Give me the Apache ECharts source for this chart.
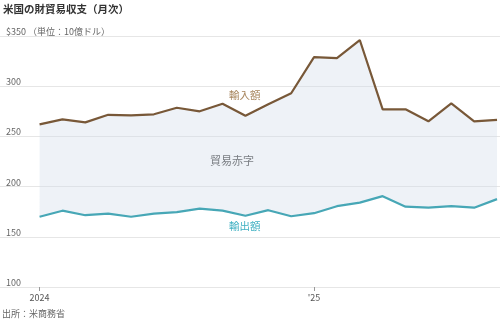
<!DOCTYPE html>
<html><head><meta charset="utf-8">
<script src="https://cdn.jsdelivr.net/npm/echarts@6/dist/echarts.min.js"></script>
<style>html,body{margin:0;padding:0;background:#fff}#c{width:500px;height:325px}</style>
</head><body><div id="c"></div>
<script>
const months = ['2024-01','2024-02','2024-03','2024-04','2024-05','2024-06','2024-07','2024-08','2024-09','2024-10','2024-11','2024-12',
                '2025-01','2025-02','2025-03','2025-04','2025-05','2025-06','2025-07','2025-08','2025-09'];
const imports = [262,267,264,271.5,271,272,278.5,275,282.5,270.5,282,293,329,328,346,277,277,265,283,265,266.5];
const exports = [170,176,171.5,173,170,173,174.5,178,176,171,176.5,170.5,173.5,180.5,184,190.5,180,179,180.5,179,187.5];
const yTicks = [100,150,200,250,300,350];
const xTickLabels = {'2024-01':'2024','2025-01':"'25"};

const FONT = '"Noto Sans CJK JP", "Noto Sans", sans-serif';
const idx = months.map((m,i)=>i);
const tickIdx = months.map((m,i)=>xTickLabels[m] ? i : null).filter(v=>v!==null);

const chart = echarts.init(document.getElementById('c'), null, {renderer:'canvas'});
chart.setOption({
  animation:false,
  textStyle:{fontFamily:FONT},
  title:{text:'米国の財貿易収支（月次）', left:3, top:4, padding:0,
    textStyle:{fontSize:10.5, fontWeight:'bold', color:'#333', fontFamily:FONT}},
  grid:{left:0, right:0, top:36, bottom:38},
  xAxis:{type:'value', min:-1.73, max:20.13,
    splitLine:{show:false}, axisLine:{show:false},
    axisTick:{show:true, customValues:tickIdx, length:4, lineStyle:{color:'#999'}},
    axisLabel:{customValues:tickIdx, margin:6, fontSize:9, color:'#555', fontFamily:FONT,
      formatter:v=>xTickLabels[months[Math.round(v)]] || ''}},
  yAxis:{type:'value', min:yTicks[0], max:yTicks[yTicks.length-1], interval:50,
    axisLine:{show:false}, axisTick:{show:false},
    splitLine:{lineStyle:{color:'#e6e6e6', width:1}},
    axisLabel:{inside:true, margin:6, verticalAlign:'bottom', fontSize:9, color:'#666', fontFamily:FONT,
      formatter:v=> v===350 ? '$350 （単位：10億ドル）' : String(v)}},
  series:[
    {type:'custom', silent:true, z:1, data:[[0,0]],
      renderItem:function(params, api){
        const top = idx.map(i=>api.coord([i, imports[i]]));
        const bot = idx.slice().reverse().map(i=>api.coord([i, exports[i]]));
        return {type:'polygon', shape:{points:top.concat(bot)},
          style:{fill:'rgba(205,218,232,0.35)', stroke:null}};
      }},
    {type:'line', name:'輸入額', data:idx.map(i=>[i,imports[i]]), symbol:'none',
      lineStyle:{color:'#785838', width:2.2}, z:3},
    {type:'line', name:'輸出額', data:idx.map(i=>[i,exports[i]]), symbol:'none',
      lineStyle:{color:'#47a7b6', width:2.2}, z:3}
  ],
  graphic:[
    {type:'text', left:229, top:90, style:{text:'輸入額', fill:'#a8865e', font:'10.5px '+FONT}},
    {type:'text', left:210, top:155, style:{text:'貿易赤字', fill:'#4a4a4a', font:'11px '+FONT}},
    {type:'text', left:229, top:221, style:{text:'輸出額', fill:'#3fb0c2', font:'10.5px '+FONT}},
    {type:'text', left:2, top:309, style:{text:'出所：米商務省', fill:'#666', font:'9px '+FONT}}
  ]
});
</script></body></html>
